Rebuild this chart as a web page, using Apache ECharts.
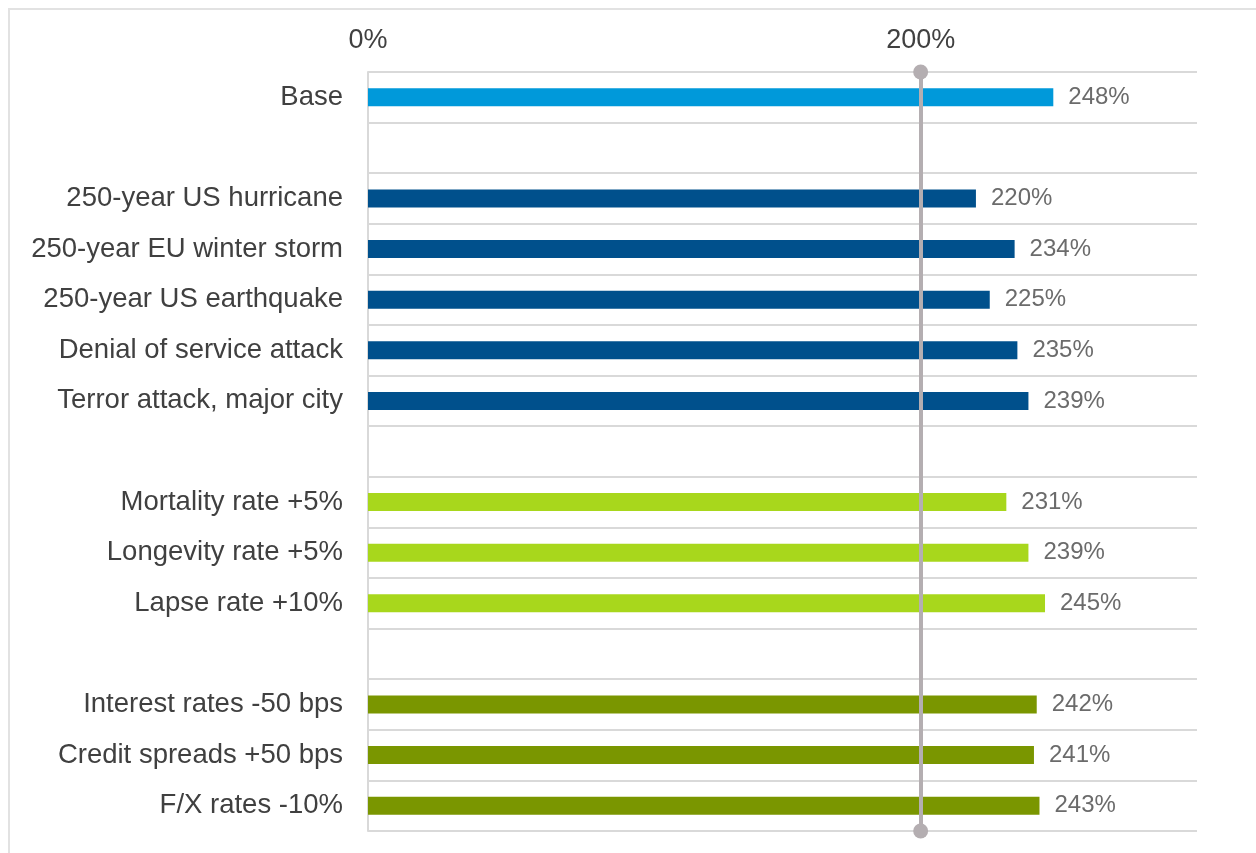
<!DOCTYPE html>
<html>
<head>
<meta charset="utf-8">
<script src="https://cdn.jsdelivr.net/npm/echarts@6/dist/echarts.min.js"></script>
<style>html,body{margin:0;padding:0;background:#fff}#c{width:1256px;height:853px}</style>
</head>
<body>
<div id="c"></div>
<script>
const categories = ['Base', ' ', '250-year US hurricane', '250-year EU winter storm', '250-year US earthquake', 'Denial of service attack', 'Terror attack, major city', '  ', 'Mortality rate +5%', 'Longevity rate +5%', 'Lapse rate +10%', '   ', 'Interest rates -50 bps', 'Credit spreads +50 bps', 'F/X rates -10%'];
const values = [248, null, 220, 234, 225, 235, 239, null, 231, 239, 245, null, 242, 241, 243];
const groups = ['base', '', 'cat', 'cat', 'cat', 'cat', 'cat', '', 'life', 'life', 'life', '', 'mkt', 'mkt', 'mkt'];
const xTickLabels = [0, 200];
const threshold = 200;
const groupColors = {base: '#0099DA', cat: '#00508C', life: '#A8D71C', mkt: '#7A9600'};

const chart = echarts.init(document.getElementById('c'));
chart.setOption({
  animation: false,
  graphic: [{type: 'rect', shape: {x: 9, y: 9, width: 1260, height: 870}, style: {fill: 'none', stroke: '#e2e2e2', lineWidth: 2}, silent: true}],
  grid: {left: 368, right: 59, top: 72, bottom: 22, containLabel: false},
  xAxis: {
    type: 'value', position: 'top', min: 0, max: 300, interval: 100,
    axisLine: {show: false}, axisTick: {show: false}, splitLine: {show: false},
    axisLabel: {
      margin: 18, color: '#404040', fontSize: 27, fontFamily: 'Liberation Sans, Arial, sans-serif',
      formatter: v => xTickLabels.indexOf(v) >= 0 ? v + '%' : ''
    }
  },
  yAxis: {
    type: 'category', inverse: true, data: categories,
    axisLine: {show: true, lineStyle: {color: '#d9d9d9', width: 2}},
    axisTick: {show: false},
    splitLine: {show: true, lineStyle: {color: '#d9d9d9', width: 2}},
    axisLabel: {margin: 25, color: '#404040', fontSize: 27.5, fontFamily: 'Liberation Sans, Arial, sans-serif'}
  },
  series: [{
    type: 'bar', barWidth: 18,
    data: values.map((v, i) => ({value: v, itemStyle: {color: groupColors[groups[i]] || '#000'}})),
    label: {show: true, position: 'right', distance: 15, color: '#6b6b6b', fontSize: 24,
      fontFamily: 'Liberation Sans, Arial, sans-serif', formatter: p => p.value == null ? '' : p.value + '%'},
    markLine: {
      silent: true, symbol: ['circle', 'circle'], symbolSize: 15,
      label: {show: false},
      lineStyle: {color: '#b4aeb1', width: 4, type: 'solid'},
      data: [{xAxis: threshold}]
    }
  }]
});
</script>
</body>
</html>
